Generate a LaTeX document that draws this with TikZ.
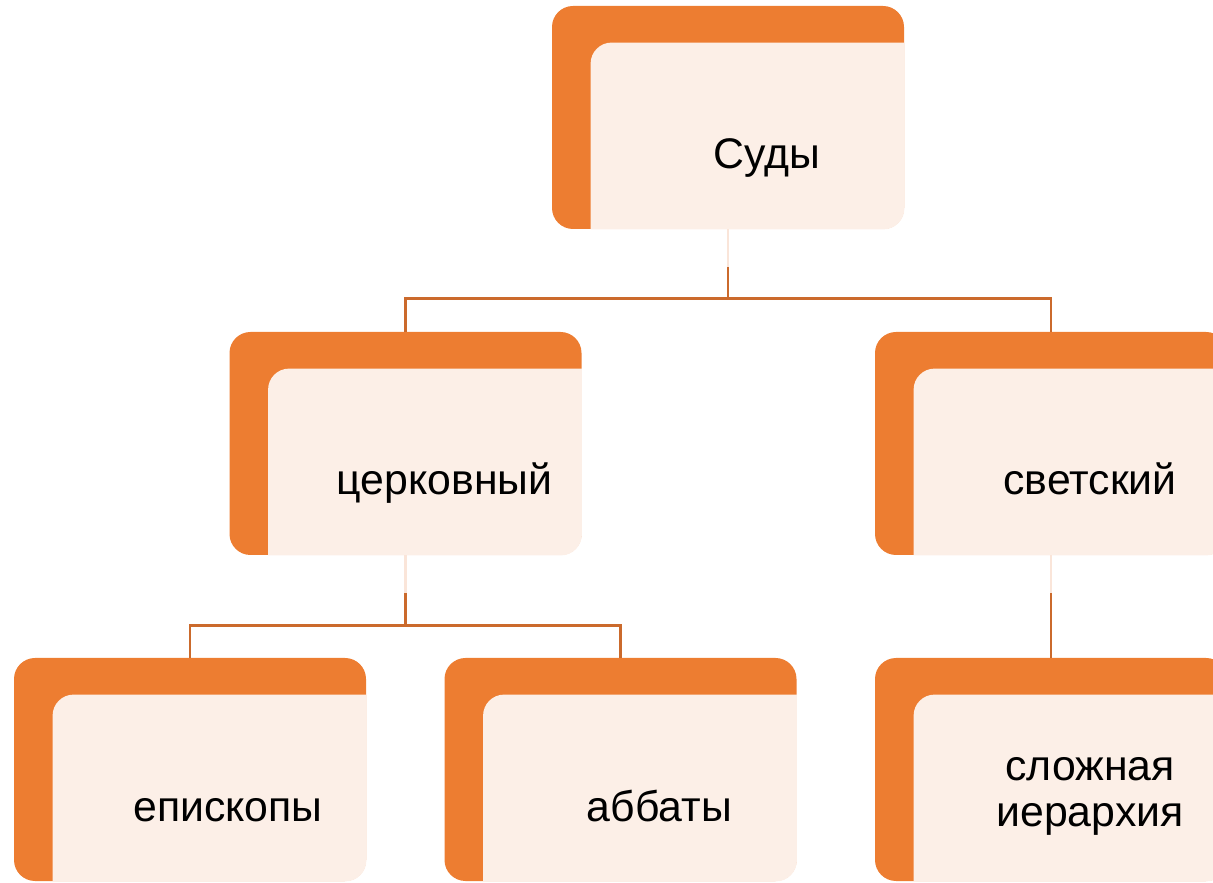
\documentclass[tikz,border=0pt]{standalone}
\usepackage{fontspec}
\setmainfont{Liberation Sans}
\usepackage{xcolor}
\definecolor{cardorange}{HTML}{ED7D31}
\definecolor{cardpeach}{HTML}{FCEFE7}
\definecolor{linkbrown}{HTML}{CB6A2C}
\definecolor{linkpale}{HTML}{FAE5D9}
\usepackage{tikz}
\usetikzlibrary{calc}
\tikzset{
  cardback/.style={rectangle,fill=cardorange,rounded corners=10.5pt,minimum width=176pt,minimum height=111.5pt,inner sep=0pt},
  cardtext/.style={anchor=base,font=\fontsize{21.4pt}{23pt}\selectfont,inner sep=0pt,align=center},
  link/.style={draw=linkbrown,line width=1.2pt},
  linkfaint/.style={draw=linkpale,line width=1.2pt}
}

\begin{document}
\begin{tikzpicture}[x=0.5pt,y=0.5pt]
  \useasboundingbox (0,0) rectangle (1213,882);
  \clip (0,0) rectangle (1213,882);

  % Cards (orange backs)
  \node[cardback] (sudy) at (728,764.5) {};
  \node[cardback] (cerk) at (405.5,438.5) {};
  \node[cardback] (svet) at (1051,438.5) {};
  \node[cardback] (episk) at (190,112.5) {};
  \node[cardback] (abb) at (620.5,112.5) {};
  \node[cardback] (slozh) at (1051,112.5) {};

  % Light panels on top of the backs
  \foreach \c in {sudy,cerk,svet,episk,abb,slozh}{
    \fill[cardpeach] ([xshift=19.5pt]\c.south west)
      -- ([xshift=19.5pt,yshift=-29pt]\c.north west)
      arc[start angle=180,end angle=90,radius=10.5pt]
      -- ([yshift=-18.5pt]\c.north east)
      -- ([yshift=10.5pt]\c.south east)
      arc[start angle=0,end angle=-90,radius=10.5pt]
      -- cycle;
  }

  % Labels
  \node[cardtext] (tsudy) at ([xshift=19.5pt,yshift=-25.75pt]sudy.center) {Суды};
  \node[cardtext] (tcerk) at ([xshift=19.5pt,yshift=-25.75pt]cerk.center) {церковный};
  \node[cardtext] (tsvet) at ([xshift=19.5pt,yshift=-25.75pt]svet.center) {светский};
  \node[cardtext] (tepisk) at ([xshift=19pt,yshift=-25.75pt]episk.center) {епископы};
  \node[cardtext] (tabb) at ([xshift=19.5pt,yshift=-25.75pt]abb.center) {аббаты};
  \node[cardtext] (tslozh) at ([xshift=19.5pt,yshift=-28.75pt]slozh.center) {сложная\\иерархия};

  % Connectors: Суды
  \draw[linkfaint] (sudy.south) -- ++(0,-19pt) coordinate (sudyj);
  \draw[link] (sudyj) -- ++(0,-15.5pt) coordinate (sudyh);
  \draw[link] (sudyh) -| (cerk.north);
  \draw[link] (sudyh) -| (svet.north);

  % Connectors: церковный
  \draw[linkfaint] (cerk.south) -- ++(0,-19pt) coordinate (cerkj);
  \draw[link] (cerkj) -- ++(0,-16pt) coordinate (cerkh);
  \draw[link] (cerkh) -| (episk.north);
  \draw[link] (cerkh) -| (abb.north);

  % Connectors: светский
  \draw[linkfaint] (svet.south) -- ++(0,-19pt) coordinate (svetj);
  \draw[link] (svetj) -- (slozh.north);
\end{tikzpicture}
\end{document}
